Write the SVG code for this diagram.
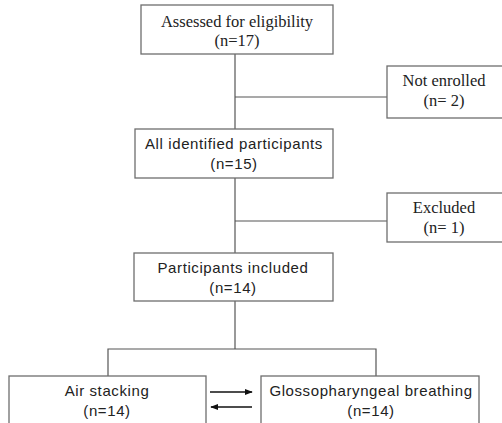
<svg xmlns="http://www.w3.org/2000/svg" width="502" height="423" viewBox="0 0 502 423">
<defs>
<style>
.box{fill:#fff;stroke:#6e6e6e;stroke-width:1.3}
.ln{fill:none;stroke:#555;stroke-width:1.2}
.serif{font-family:"Liberation Serif","Times New Roman",serif;font-size:16.5px;fill:#222;text-anchor:middle}
.sans{font-family:"Liberation Sans",Arial,sans-serif;font-size:15px;letter-spacing:0.6px;fill:#222;text-anchor:middle}
</style>
<marker id="ah" viewBox="0 0 10 10" refX="9" refY="5" markerWidth="8" markerHeight="8" orient="auto-start-reverse" markerUnits="userSpaceOnUse">
<path d="M0,1 L10,5 L0,9 z" fill="#111"/>
</marker>
</defs>
<rect width="502" height="423" fill="#fff"/>
<g id="connectors">
<line class="ln" x1="235" y1="54" x2="235" y2="129"/>
<line class="ln" x1="235" y1="97" x2="387" y2="97"/>
<line class="ln" x1="235" y1="178" x2="235" y2="253"/>
<line class="ln" x1="235" y1="221" x2="387" y2="221"/>
<line class="ln" x1="235" y1="301" x2="235" y2="349"/>
<polyline class="ln" points="108,376 108,349 376,349 376,376"/>
<line x1="210" y1="392" x2="252" y2="392" stroke="#111" stroke-width="1.3" marker-end="url(#ah)"/>
<line x1="211" y1="407" x2="252" y2="407" stroke="#111" stroke-width="1.3" marker-start="url(#ah)"/>
</g>
<g id="assessed">
<rect class="box" x="141" y="5" width="192" height="49"/>
<text class="serif" x="237" y="27">Assessed for eligibility</text>
<text class="serif" x="237" y="46">(n=17)</text>
</g>
<g id="not-enrolled">
<rect class="box" x="387" y="66" width="116" height="52"/>
<text class="serif" x="444" y="86">Not enrolled</text>
<text class="serif" x="444" y="106">(n= 2)</text>
</g>
<g id="all-identified">
<rect class="box" x="135" y="129" width="198" height="49"/>
<text class="sans" x="234" y="149">All identified participants</text>
<text class="sans" x="234" y="169">(n=15)</text>
</g>
<g id="excluded">
<rect class="box" x="387" y="193" width="116" height="49"/>
<text class="serif" x="444" y="213">Excluded</text>
<text class="serif" x="444" y="233">(n= 1)</text>
</g>
<g id="included">
<rect class="box" x="134" y="253" width="199" height="48"/>
<text class="sans" x="233" y="273">Participants included</text>
<text class="sans" x="233" y="293">(n=14)</text>
</g>
<g id="air-stacking">
<rect class="box" x="9" y="376" width="197" height="60"/>
<text class="sans" x="107" y="396">Air stacking</text>
<text class="sans" x="107" y="416">(n=14)</text>
</g>
<g id="glosso">
<rect class="box" x="261" y="376" width="218" height="60"/>
<text class="sans" x="371" y="396">Glossopharyngeal breathing</text>
<text class="sans" x="371" y="416">(n=14)</text>
</g>
</svg>
